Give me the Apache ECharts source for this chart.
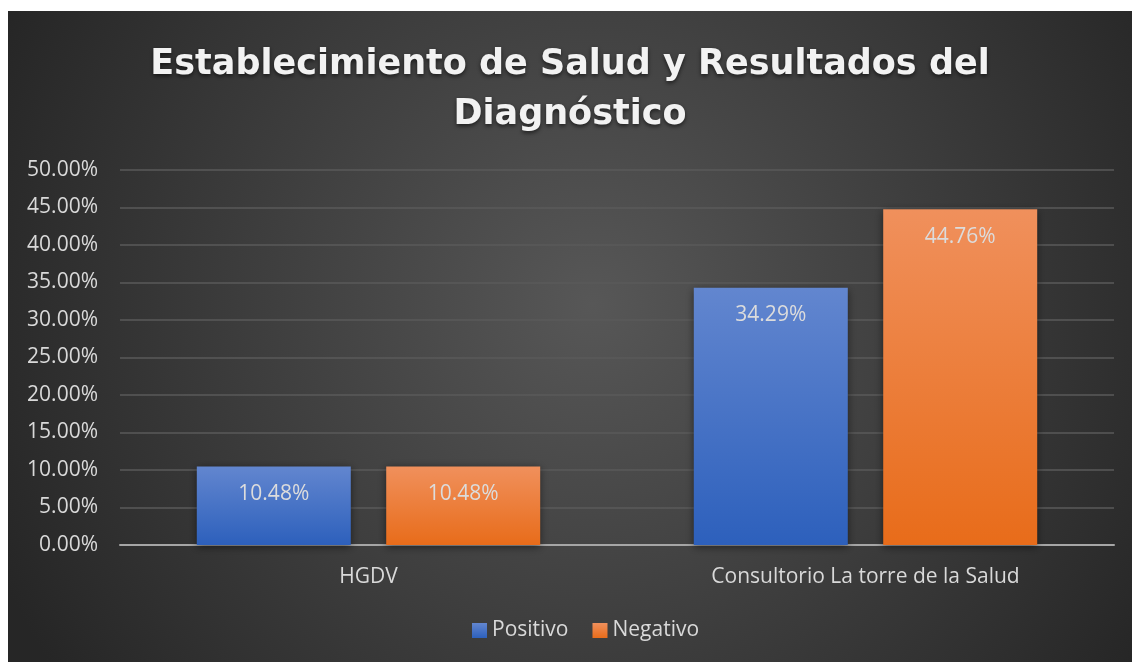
<!DOCTYPE html>
<html>
<head>
<meta charset="utf-8">
<script src="https://cdn.jsdelivr.net/npm/echarts@6/dist/echarts.min.js"></script>
<style>
  html, body { margin: 0; padding: 0; background: #fff; }
  #main { position: absolute; left: 8px; top: 11px; width: 1124px; height: 651px; }
</style>
</head>
<body>
<div id="main"></div>
<script>
// datos
var categorias = ['HGDV', 'Consultorio La torre de la Salud'];
var positivo = [10.48, 34.29];
var negativo = [10.48, 44.76];
var ticks = [0, 5, 10, 15, 20, 25, 30, 35, 40, 45, 50];

var chart = echarts.init(document.getElementById('main'));

function barGrad(top, bottom) {
  return new echarts.graphic.LinearGradient(0, 0, 0, 1, [
    { offset: 0, color: top },
    { offset: 1, color: bottom }
  ]);
}

var labelCfg = {
  show: true,
  position: 'insideTop',
  distance: 17,
  color: '#dcdcdc',
  fontSize: 21,
  fontFamily: 'Open Sans',
  formatter: function (p) { return p.value.toFixed(2) + '%'; }
};

chart.setOption({
  backgroundColor: {
    type: 'radial', x: 0.52, y: 0.45, r: 1.0,
    colorStops: [
      { offset: 0, color: '#575757' },
      { offset: 1, color: '#262626' }
    ]
  },
  title: {
    text: 'Establecimiento de Salud y Resultados del\nDiagnóstico',
    left: 'center',
    top: 24,
    textStyle: {
      color: '#f2f2f2',
      fontSize: 35,
      fontWeight: 'bold',
      fontFamily: 'DejaVu Sans',
      lineHeight: 50,
      textShadowColor: 'rgba(0,0,0,0.6)',
      textShadowBlur: 4,
      textShadowOffsetY: 2
    }
  },
  legend: {
    bottom: 16,
    left: 459,
    itemWidth: 15,
    itemHeight: 15,
    itemGap: 24,
    icon: 'rect',
    textStyle: { color: '#d9d9d9', fontSize: 21, fontFamily: 'Open Sans' },
    data: ['Positivo', 'Negativo']
  },
  grid: { left: 112, right: 18, top: 159, bottom: 117 },
  xAxis: {
    type: 'category',
    data: categorias,
    axisLine: { lineStyle: { color: '#a6a6a6', width: 2 } },
    axisTick: { show: false },
    axisLabel: { color: '#d9d9d9', fontSize: 21, fontFamily: 'Open Sans', margin: 22 }
  },
  yAxis: {
    type: 'value',
    min: ticks[0],
    max: ticks[ticks.length - 1],
    interval: 5,
    axisLine: { show: false },
    axisTick: { show: false },
    splitLine: { lineStyle: { color: '#5a5a5a', width: 1.5 } },
    axisLabel: {
      color: '#d9d9d9', fontSize: 21, fontFamily: 'Open Sans', margin: 22,
      formatter: function (v) { return v.toFixed(2) + '%'; }
    }
  },
  series: [
    {
      name: 'Positivo',
      type: 'bar',
      data: positivo,
      barWidth: 154,
      barGap: '23%',
      itemStyle: {
        color: barGrad('#6286cf', '#2d60bc'),
        shadowColor: 'rgba(0,0,0,0.5)', shadowBlur: 8, shadowOffsetY: 2
      },
      label: labelCfg
    },
    {
      name: 'Negativo',
      type: 'bar',
      data: negativo,
      barWidth: 154,
      barGap: '23%',
      itemStyle: {
        color: barGrad('#f0905c', '#e86c1a'),
        shadowColor: 'rgba(0,0,0,0.5)', shadowBlur: 8, shadowOffsetY: 2
      },
      label: labelCfg
    }
  ]
});
</script>
</body>
</html>
